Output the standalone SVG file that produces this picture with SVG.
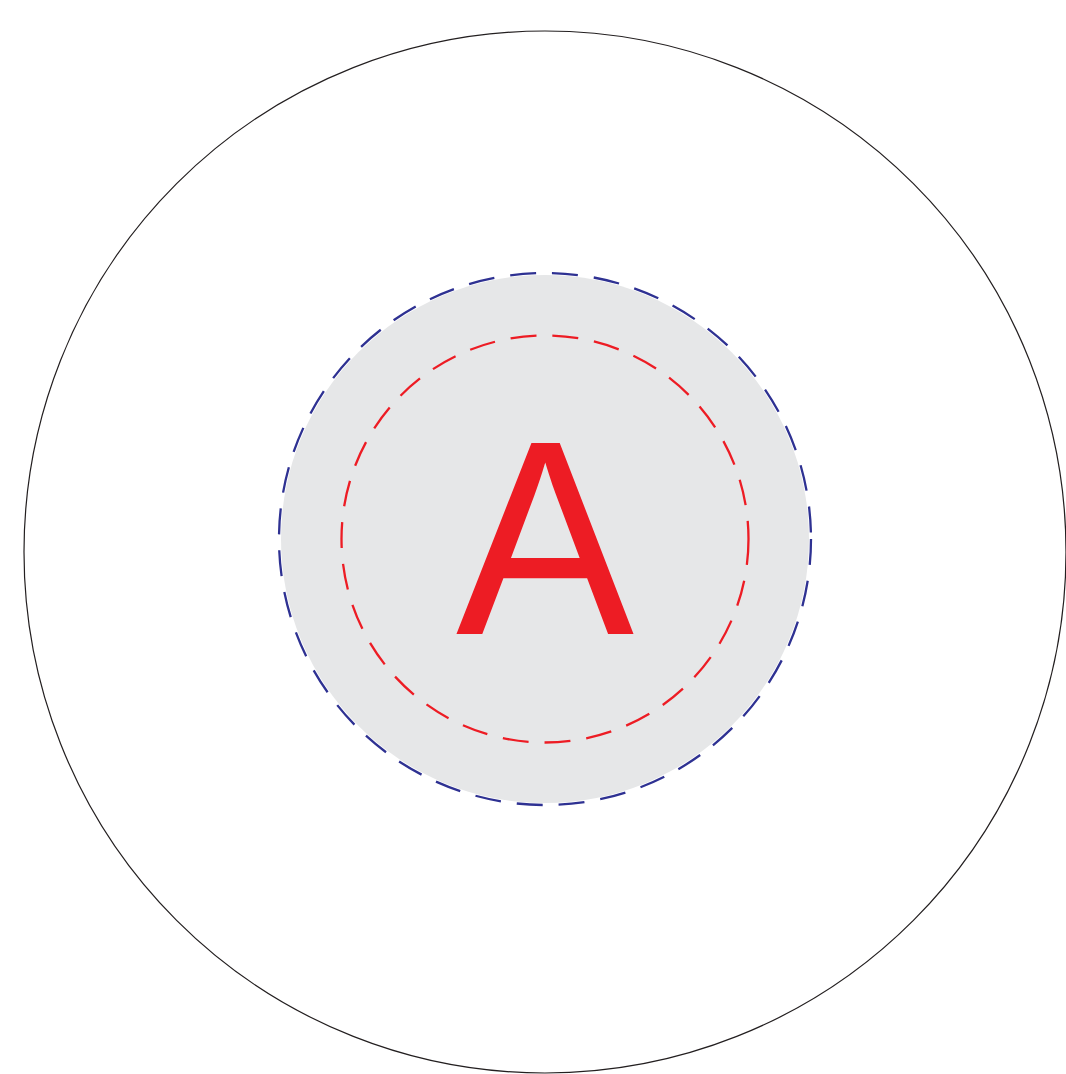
<svg xmlns="http://www.w3.org/2000/svg" width="1066" height="1074" viewBox="0 0 1066 1074">
<style>
.dash{fill:none;stroke-width:2.3;stroke-dasharray:26 16}
</style>
<rect width="1066" height="1074" fill="#ffffff"/>
<g id="outer"><circle cx="545" cy="552" r="521" fill="none" stroke="#231f20" stroke-width="1.2"/></g>
<g id="inner">
<circle cx="545" cy="539" r="264" fill="#e6e7e8"/>
<circle class="dash" cx="545" cy="539" r="266" stroke="#2e3192"/>
<circle class="dash" cx="545" cy="539" r="203.5" stroke="#ed1c24"/>
<text transform="translate(545,634) scale(1,1.04)" text-anchor="middle" font-family="Liberation Sans, Arial, sans-serif" font-size="267" fill="#ed1c24">A</text>
</g>
</svg>
